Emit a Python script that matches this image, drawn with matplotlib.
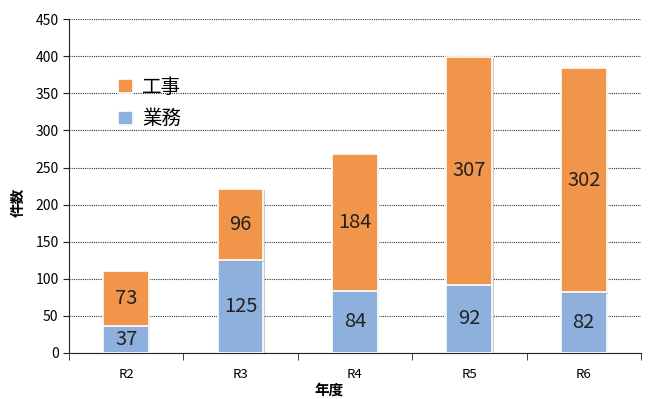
import matplotlib
matplotlib.use("Agg")
import matplotlib.pyplot as plt
import matplotlib.patheffects as pe
import numpy as np

plt.rcParams['font.family'] = ['Noto Sans CJK JP', 'DejaVu Sans']

years = ["R2", "R3", "R4", "R5", "R6"]
gyomu = [37, 125, 84, 92, 82]      # 業務
koji = [73, 96, 184, 307, 302]     # 工事

c_orange = "#F0954A"
c_blue = "#8DB1DC"

fig = plt.figure(figsize=(6.52, 3.99), dpi=100)
ax = fig.add_axes([0.1058, 0.1153, 0.8772, 0.8367])

shadow = [pe.SimplePatchShadow(offset=(1, -1), shadow_rgbFace="#999999", alpha=0.5), pe.Normal()]

x = np.arange(len(years))
b1 = ax.bar(x, gyomu, width=0.4, color=c_blue, edgecolor="white", linewidth=1.2, zorder=3)
b2 = ax.bar(x, koji, width=0.4, bottom=gyomu, color=c_orange, edgecolor="white", linewidth=1.2, zorder=3)
for p in list(b1) + list(b2):
    p.set_path_effects(shadow)

for xi, g, k in zip(x, gyomu, koji):
    ax.text(xi, g / 2, str(g), ha="center", va="center", fontsize=14.5, color="#222222", zorder=4)
    ax.text(xi, g + k / 2, str(k), ha="center", va="center", fontsize=14.5, color="#222222", zorder=4)

ax.set_xlim(-0.5, len(years) - 0.5)
ax.set_ylim(0, 450)
ax.set_yticks(range(0, 451, 50))
ax.yaxis.grid(True, linestyle=(0, (1, 1)), color="#333333", linewidth=0.8, zorder=0)
ax.set_axisbelow(True)

ax.set_xticks(x)
ax.set_xticklabels(years, fontsize=9.5)
ax.set_xticks(np.arange(-0.5, len(years) + 0.5, 1), minor=True)
ax.tick_params(axis="x", which="major", length=0, pad=11)
ax.tick_params(axis="x", which="minor", length=5, direction="out", color="#222222")
ax.tick_params(axis="y", labelsize=10, length=4, color="#222222")

for s in ["top", "right"]:
    ax.spines[s].set_visible(False)
ax.spines["left"].set_color("#222222")
ax.spines["bottom"].set_color("#222222")

ax.set_ylabel("件数", fontsize=10.5, fontweight="bold")
ax.yaxis.set_label_coords(-0.075, 0.45)
ax.set_xlabel("年度", fontsize=10.5, fontweight="bold")
ax.xaxis.set_label_coords(0.455, -0.085)

leg = ax.legend([b2, b1], ["工事", "業務"], loc="upper left", bbox_to_anchor=(0.055, 0.88),
                frameon=False, fontsize=14, handlelength=0.75, handleheight=0.75,
                handletextpad=0.5, labelspacing=0.55)

fig.savefig("out.png", dpi=100)
